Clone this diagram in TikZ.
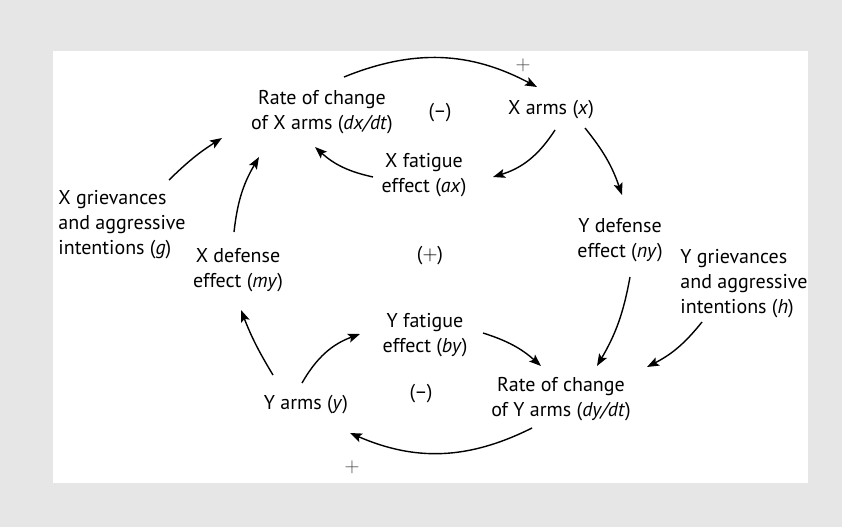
\documentclass[tikz,border=0pt]{standalone}
\usepackage{fontspec}
\setmainfont{PT Sans}
\usetikzlibrary{arrows.meta, positioning}
\definecolor{framegray}{RGB}{230,230,230}
\definecolor{signgray}{RGB}{70,70,70}

\begin{document}
\begin{tikzpicture}[
		x=1pt, y=1pt,
		lbl/.style={align=center, font=\fontsize{20}{25}\selectfont, inner sep=0pt},
		sign/.style={font=\fontsize{20}{25}\selectfont, inner sep=0pt},
		arr/.style={-{Stealth[length=12pt, width=9pt, inset=2.5pt]}, line width=1.4pt}
	]
		\fill[framegray] (0,0) rectangle (842,-527);
		\fill[white] (53,-51) rectangle (808,-483);
		% upper loop
		\node[lbl] (ratex) at (322,-112) {Rate of change\\ of X arms (\textit{dx/dt})};
		\node[lbl] (xarms) at (551,-110) {X arms (\textit{x})};
		\node[lbl] (xfat) at (424,-175) {X fatigue\\ effect (\textit{ax})};
		\node[lbl, align=left] (xgr) at (122,-225) {X grievances\\ and aggressive\\ intentions (\textit{g})};
		\node[lbl] (xdef) at (238,-270) {X defense\\ effect (\textit{my})};
		% lower loop
		\node[lbl] (ydef) at (620,-240) {Y defense\\ effect (\textit{ny})};
		\node[lbl, align=left] (ygr) at (744,-284) {Y grievances\\ and aggressive\\ intentions (\textit{h})};
		\node[lbl] (yfat) at (425,-335) {Y fatigue\\ effect (\textit{by})};
		\node[lbl] (ratey) at (561,-399) {Rate of change\\ of Y arms (\textit{dy/dt})};
		\node[lbl] (yarms) at (306,-405) {Y arms (\textit{y})};
		% loop signs
		\node[sign] (negx) at (440,-113) {(--)};
		\node[sign] (pos) at (430,-256) {($+$)};
		\node[sign] (negy) at (421,-394) {(--)};
		\node[sign, signgray] (plusx) at (523,-65) {$+$};
		\node[sign, signgray] (plusy) at (352,-467) {$+$};
		\draw[arr] ([shift={(22,35)}]ratex.center) to[bend left=25] ([shift={(-14,23)}]xarms.center);
		\draw[arr] ([shift={(4,-20)}]xarms.center) to[bend left=20] ([shift={(69,-2)}]xfat.center);
		\draw[arr] ([shift={(34,-18)}]xarms.center) to[bend left=10] ([shift={(2,45)}]ydef.center);
		\draw[arr] ([shift={(-51,-2)}]xfat.center) to[bend left=15] ([shift={(-7,-35)}]ratex.center);
		\draw[arr] ([shift={(-4,38)}]xdef.center) to[bend left=12] ([shift={(-63,-45)}]ratex.center);
		\draw[arr] ([shift={(47,45)}]xgr.center) to[bend left=6] ([shift={(-100,-26)}]ratex.center);
		\draw[arr] ([shift={(-33,30)}]yarms.center) to[bend left=5] ([shift={(3,-40)}]xdef.center);
		\draw[arr] ([shift={(-4,22)}]yarms.center) to[bend left=20] ([shift={(-65,1)}]yfat.center);
		\draw[arr] ([shift={(58,2)}]yfat.center) to[bend left=12] ([shift={(-20,33)}]ratey.center);
		\draw[arr] ([shift={(10,-37)}]ydef.center) to[bend left=10] ([shift={(36,33)}]ratey.center);
		\draw[arr] ([shift={(-42,-38)}]ygr.center) to[bend left=12] ([shift={(86,32)}]ratey.center);
		\draw[arr] ([shift={(-29,-29)}]ratey.center) to[bend left=25] ([shift={(44,-28)}]yarms.center);
	\end{tikzpicture}
\end{document}
